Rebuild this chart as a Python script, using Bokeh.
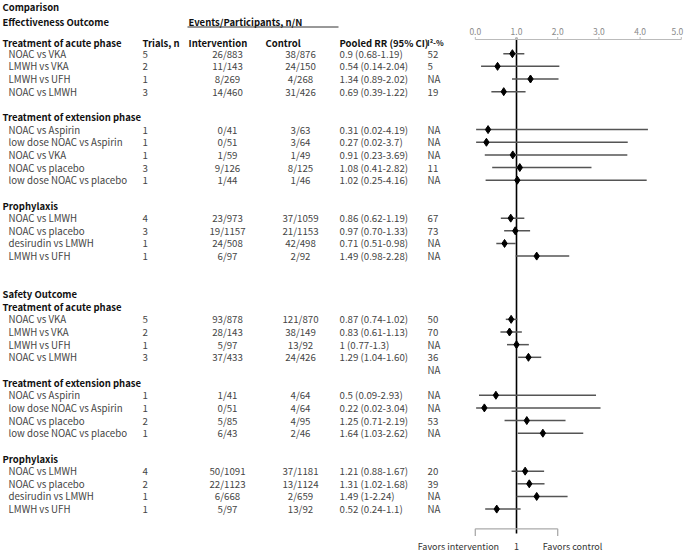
from bokeh.plotting import figure
from bokeh.models import Range1d, ColumnDataSource
from bokeh.core.properties import value
from bokeh.embed import file_html
from bokeh.resources import INLINE

# ---------------- data ----------------
eff_acute_cmp = ["NOAC vs VKA", "LMWH vs VKA", "LMWH vs UFH", "NOAC vs LMWH"]
eff_acute_trials = ["5", "2", "1", "3"]
eff_acute_int = ["26/883", "11/143", "8/269", "14/460"]
eff_acute_ctl = ["38/876", "24/150", "4/268", "31/426"]
eff_acute_rr = ["0.9", "0.54", "1.34", "0.69"]
eff_acute_lo = ["0.68", "0.14", "0.89", "0.39"]
eff_acute_hi = ["1.19", "2.04", "2.02", "1.22"]
eff_acute_i2 = ["52", "5", "NA", "19"]

eff_ext_cmp = ["NOAC vs Aspirin", "low dose NOAC vs Aspirin", "NOAC vs VKA", "NOAC vs placebo", "low dose NOAC vs placebo"]
eff_ext_trials = ["1", "1", "1", "3", "1"]
eff_ext_int = ["0/41", "0/51", "1/59", "9/126", "1/44"]
eff_ext_ctl = ["3/63", "3/64", "1/49", "8/125", "1/46"]
eff_ext_rr = ["0.31", "0.27", "0.91", "1.08", "1.02"]
eff_ext_lo = ["0.02", "0.02", "0.23", "0.41", "0.25"]
eff_ext_hi = ["4.19", "3.7", "3.69", "2.82", "4.16"]
eff_ext_i2 = ["NA", "NA", "NA", "11", "NA"]

eff_pro_cmp = ["NOAC vs LMWH", "NOAC vs placebo", "desirudin vs LMWH", "LMWH vs UFH"]
eff_pro_trials = ["4", "3", "1", "1"]
eff_pro_int = ["23/973", "19/1157", "24/508", "6/97"]
eff_pro_ctl = ["37/1059", "21/1153", "42/498", "2/92"]
eff_pro_rr = ["0.86", "0.97", "0.71", "1.49"]
eff_pro_lo = ["0.62", "0.70", "0.51", "0.98"]
eff_pro_hi = ["1.19", "1.33", "0.98", "2.28"]
eff_pro_i2 = ["67", "73", "NA", "NA"]

saf_acute_cmp = ["NOAC vs VKA", "LMWH vs VKA", "LMWH vs UFH", "NOAC vs LMWH"]
saf_acute_trials = ["5", "2", "1", "3"]
saf_acute_int = ["93/878", "28/143", "5/97", "37/433"]
saf_acute_ctl = ["121/870", "38/149", "13/92", "24/426"]
saf_acute_rr = ["0.87", "0.83", "1", "1.29"]
saf_acute_lo = ["0.74", "0.61", "0.77", "1.04"]
saf_acute_hi = ["1.02", "1.13", "1.3", "1.60"]
saf_acute_i2 = ["50", "70", "NA", "36"]

saf_ext_cmp = ["NOAC vs Aspirin", "low dose NOAC vs Aspirin", "NOAC vs placebo", "low dose NOAC vs placebo"]
saf_ext_trials = ["1", "1", "2", "1"]
saf_ext_int = ["1/41", "0/51", "5/85", "6/43"]
saf_ext_ctl = ["4/64", "4/64", "4/95", "2/46"]
saf_ext_rr = ["0.5", "0.22", "1.25", "1.64"]
saf_ext_lo = ["0.09", "0.02", "0.71", "1.03"]
saf_ext_hi = ["2.93", "3.04", "2.19", "2.62"]
saf_ext_i2 = ["NA", "NA", "53", "NA"]

saf_pro_cmp = ["NOAC vs LMWH", "NOAC vs placebo", "desirudin vs LMWH", "LMWH vs UFH"]
saf_pro_trials = ["4", "2", "1", "1"]
saf_pro_int = ["50/1091", "22/1123", "6/668", "5/97"]
saf_pro_ctl = ["37/1181", "13/1124", "2/659", "13/92"]
saf_pro_rr = ["1.21", "1.31", "1.49", "0.52"]
saf_pro_lo = ["0.88", "1.02", "1", "0.24"]
saf_pro_hi = ["1.67", "1.68", "2.24", "1.1"]
saf_pro_i2 = ["20", "39", "NA", "NA"]

axis_ticks = [0.0, 1.0, 2.0, 3.0, 4.0, 5.0]
axis_labels = ["0.0", "1.0", "2.0", "3.0", "4.0", "5.0"]

# ---------------- layout ----------------
FONT = value("Noto Sans CJK SC")
REF_W, REF_H = 685, 552
ROW0, STEP = 53.2, 12.65
X_CMP_H, X_CMP, X_TRI, X_INT, X_CTL, X_RR, X_I2 = 2, 8, 142, 227, 300, 339, 427
RR_PX0, RR_PXU = 474.8, 41.2  # where RR=0 sits, px per RR unit
FS = "9.7px"
HFS = "9.5px"
DATA_C = "#454545"
HEAD_C = "#111111"


def ry(i):
    return ROW0 + STEP * i


p = figure(width=REF_W, height=REF_H, output_backend="svg", toolbar_location=None,
           x_range=Range1d(0, REF_W), y_range=Range1d(REF_H, 0), min_border=0,
           x_axis_location=None, y_axis_location=None)
p.extra_x_ranges = {"rr": Range1d(-RR_PX0 / RR_PXU, (REF_W - RR_PX0) / RR_PXU)}
p.grid.visible = False
p.outline_line_color = None
p.background_fill_color = "white"
p.border_fill_color = "white"


def head(x, y, t, bold=True, align="left", color=HEAD_C, size=HFS):
    p.text(x=[x], y=[y], text=[t], text_font=FONT, text_font_size=size,
           text_font_style="bold" if bold else "normal", text_color=color,
           text_align=align, text_baseline="middle")


# top headers
head(X_CMP_H, 6, "Comparison")
head(X_CMP_H, 21, "Effectiveness Outcome")
head(188, 21.5, "Events/Participants, n/N")
p.segment(x0=[187], x1=[338], y0=[26.5], y1=[26.5], line_color="#333333", line_width=1)
head(X_TRI, 42, "Trials, n")
head(188, 42, "Intervention")
head(265, 42, "Control")
head(X_RR, 42, "Pooled RR (95% CI)")
head(X_I2 - 0.5, 42, "I²-%", size="8px")

sections = [
    (-0.87, "Treatment of acute phase", 0, eff_acute_cmp, eff_acute_trials, eff_acute_int, eff_acute_ctl, eff_acute_rr, eff_acute_lo, eff_acute_hi, eff_acute_i2),
    (5, "Treatment of extension phase", 6, eff_ext_cmp, eff_ext_trials, eff_ext_int, eff_ext_ctl, eff_ext_rr, eff_ext_lo, eff_ext_hi, eff_ext_i2),
    (12, "Prophylaxis", 13, eff_pro_cmp, eff_pro_trials, eff_pro_int, eff_pro_ctl, eff_pro_rr, eff_pro_lo, eff_pro_hi, eff_pro_i2),
    (20, "Treatment of acute phase", 21, saf_acute_cmp, saf_acute_trials, saf_acute_int, saf_acute_ctl, saf_acute_rr, saf_acute_lo, saf_acute_hi, saf_acute_i2),
    (26, "Treatment of extension phase", 27, saf_ext_cmp, saf_ext_trials, saf_ext_int, saf_ext_ctl, saf_ext_rr, saf_ext_lo, saf_ext_hi, saf_ext_i2),
    (32, "Prophylaxis", 33, saf_pro_cmp, saf_pro_trials, saf_pro_int, saf_pro_ctl, saf_pro_rr, saf_pro_lo, saf_pro_hi, saf_pro_i2),
]
head(X_CMP_H, ry(19), "Safety Outcome")

# reference line at RR = 1
p.segment(x0=[1], x1=[1], y0=[37], y1=[533], x_range_name="rr", line_color="black", line_width=1.6)

for hrow, htext, r0, cmp, tri, itv, ctl, rr, lo, hi, i2 in sections:
    head(X_CMP_H, ry(hrow), htext)
    ys = [ry(r0 + k) for k in range(len(cmp))]
    rr_text = [f"{a} ({b}-{c})" for a, b, c in zip(rr, lo, hi)]
    src = ColumnDataSource(dict(
        y=ys, cmp=cmp, tri=tri, itv=itv, ctl=ctl, rrt=rr_text, i2=i2,
        rr=[float(v) for v in rr], lo=[float(v) for v in lo], hi=[float(v) for v in hi]))
    common = dict(source=src, text_font=FONT, text_font_size=FS, text_color=DATA_C, text_baseline="middle")
    p.text(x=X_CMP, y="y", text="cmp", text_align="left", **common)
    p.text(x=X_TRI, y="y", text="tri", text_align="left", **common)
    p.text(x=X_INT, y="y", text="itv", text_align="center", **common)
    p.text(x=X_CTL, y="y", text="ctl", text_align="center", **common)
    p.text(x=X_RR, y="y", text="rrt", text_align="left", **common)
    p.text(x=X_I2, y="y", text="i2", text_align="left", **common)
    p.segment(x0="lo", x1="hi", y0="y", y1="y", source=src, x_range_name="rr",
              line_color="#555555", line_width=1.5)
    p.scatter(x="rr", y="y", source=src, x_range_name="rr", marker="diamond",
              size=8, fill_color="black", line_color="black")

# stray NA in I² column of safety acute block
p.text(x=[X_I2], y=[ry(25)], text=["NA"], text_font=FONT, text_font_size=FS,
       text_color=DATA_C, text_baseline="middle", text_align="left")

# top RR axis
p.segment(x0=[axis_ticks[0]], x1=[axis_ticks[-1]], y0=[39], y1=[39], x_range_name="rr",
          line_color="#bbbbbb", line_width=1.2)
p.segment(x0=axis_ticks, x1=axis_ticks, y0=[36.5] * len(axis_ticks), y1=[39] * len(axis_ticks),
          x_range_name="rr", line_color="#bbbbbb", line_width=1)
AX = dict(x_range_name="rr", text_font=FONT, text_font_size="8.5px", text_color="#8a8a8a",
          text_baseline="middle")
p.text(x=axis_ticks[:-1], y=[30.5] * (len(axis_ticks) - 1), text=axis_labels[:-1],
       text_align="center", **AX)
p.text(x=axis_ticks[-1:], y=[30.5], text=axis_labels[-1:], text_align="right", x_offset=2, **AX)

# bottom bracket
p.segment(x0=[0], x1=[2], y0=[528.3], y1=[528.3], x_range_name="rr", line_color="#aaaaaa", line_width=1.3)
p.segment(x0=[0, 2], x1=[0, 2], y0=[528.3, 528.3], y1=[535.5, 535.5], x_range_name="rr",
          line_color="#aaaaaa", line_width=1.3)
BT = dict(x_range_name="rr", text_font=FONT, text_font_size="9px", text_color="#333333",
          text_align="center", text_baseline="middle")
p.text(x=[-0.41], y=[545.8], text=["Favors intervention"], **BT)
p.text(x=[1], y=[545.8], text=["1"], **BT)
p.text(x=[2.36], y=[545.8], text=["Favors control"], **BT)

open("out.html", "w").write(file_html(p, INLINE))
